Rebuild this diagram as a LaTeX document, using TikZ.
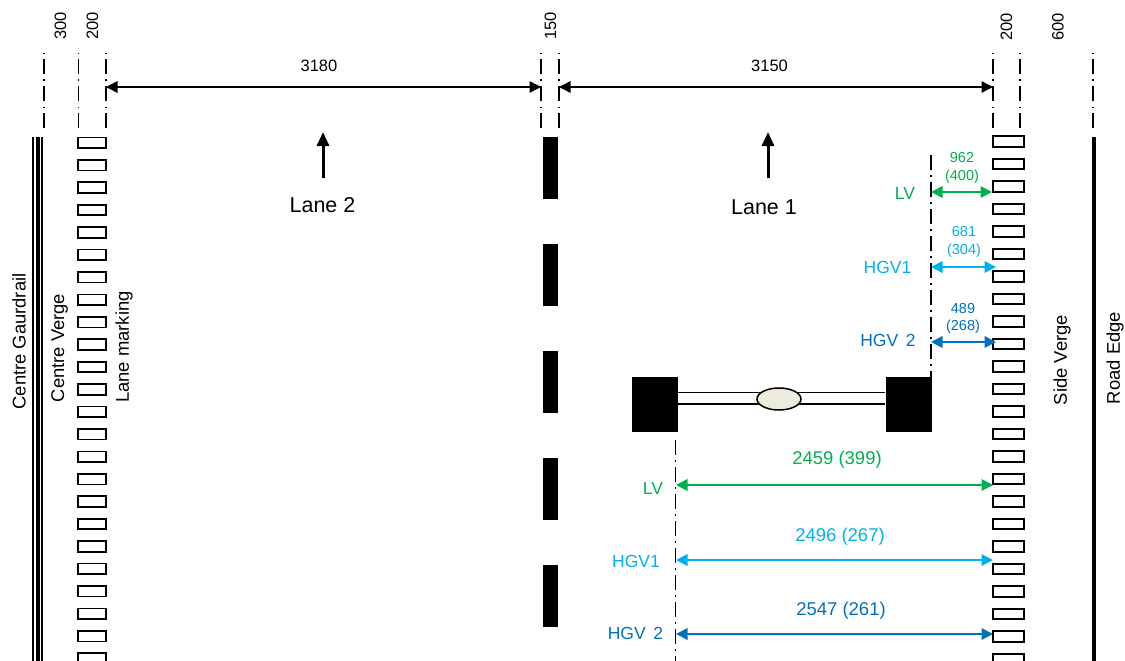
\documentclass[tikz,border=0pt]{standalone}
\usepackage{fontspec}
\setmainfont{Liberation Sans}
\usetikzlibrary{arrows.meta,shapes.geometric}
\begin{document}
\begin{tikzpicture}[x=1pt,y=-1pt,
    guide/.style={line width=1.5pt,dash pattern=on 15pt off 5pt on 1.5pt off 5.5pt},
    markbox/.style={draw,line width=1.7pt,inner sep=0,minimum height=10.5pt,fill=white},
    wheel/.style={fill,inner sep=0,minimum width=46pt,minimum height=55pt},
    dimarrow/.style={line width=1.5pt,{Triangle[length=11.5pt,width=11.5pt]}-{Triangle[length=11.5pt,width=11.5pt]}},
    valarrow/.style={dimarrow,line width=1.9pt},
    uparrow/.style={line width=3pt,-{Triangle[length=14pt,width=12pt]}},
    dimtext/.style={font=\fontsize{16.5}{16.5}\selectfont,inner sep=0},
    sidetext/.style={font=\fontsize{18.4}{18.4}\selectfont,inner sep=0,rotate=90},
    lanetext/.style={font=\fontsize{21.5}{21.5}\selectfont,inner sep=0},
    vehtext/.style={font=\fontsize{17.5}{17.5}\selectfont,inner sep=0},
    valtext/.style={font=\fontsize{18.5}{18.5}\selectfont,inner sep=0},
    smalltext/.style={font=\fontsize{14.5}{14.5}\selectfont,inner sep=0}]
  % colors
  \definecolor{kGreen}{rgb}{0.0,0.69,0.31}
  \definecolor{kSky}{rgb}{0.0,0.69,0.94}
  \definecolor{kBlue}{rgb}{0.0,0.44,0.75}
  \definecolor{kAxle}{rgb}{0.93,0.92,0.87}
  \clip (0,0) rectangle (1125,661);
  % guide lines on top
  \foreach \x/\n in {44/gc, 78.5/gv, 106/gm, 541/gl, 559/gr, 993/gs, 1020/gt, 1093/ge} {
    \coordinate (\n top) at (\x,53);
    \coordinate (\n bot) at (\x,128);
    \draw[guide] (\n bot) -- (\n top);
  }
  % guardrail and road edge
  \draw[line width=1.6pt] (32.8,137) -- (32.8,661);
  \draw[line width=4.3pt] (37.8,137) -- (37.8,661);
  \draw[line width=1.8pt] (42.3,137) -- (42.3,661);
  \draw[line width=4.6pt] (1093.8,137) -- (1093.8,661);
  % edge markings
  \foreach \i in {0,...,23} {
    \node[markbox,minimum width=28pt] (ml\i) at (92.3,{142.7+22.43*\i}) {};
    \node[markbox,minimum width=31pt] (mr\i) at (1008.7,{141.5+22.5*\i}) {};
  }
  % lane line
  \foreach \y in {137,244,351,458,565}
    \fill (543,\y) rectangle (558,\y+61.5);
  % lane widths
  \coordinate (wa) at (106,87);
  \coordinate (wb) at (541,87);
  \coordinate (wc) at (559,87);
  \coordinate (wd) at (993,87);
  \draw[dimarrow] (wa) -- (wb);
  \draw[dimarrow] (wc) -- (wd);
  \node[dimtext] (w1) at (319,65.5) {3180};
  \node[dimtext] (w2) at (769.5,65.5) {3150};
  \node[dimtext,rotate=90] (n300) at (60.5,26) {300};
  \node[dimtext,rotate=90] (n200a) at (92.5,26) {200};
  \node[dimtext,rotate=90] (n150) at (550.5,26) {150};
  \node[dimtext,rotate=90] (n200b) at (1006.5,27) {200};
  \node[dimtext,rotate=90] (n600) at (1058,27) {600};
  % lanes
  \coordinate (la) at (323,178);
  \coordinate (lb) at (323,132);
  \coordinate (lc) at (768,178);
  \coordinate (ld) at (768,132);
  \draw[uparrow] (la) -- (lb);
  \draw[uparrow] (lc) -- (ld);
  \node[lanetext] (lane2) at (322.5,205) {Lane 2};
  \node[lanetext] (lane1) at (764,207) {Lane 1};
  % side labels
  \node[sidetext] (cg) at (19,341.5) {Centre Gaurdrail};
  \node[sidetext] (cv) at (59.5,348) {Centre Verge};
  \node[sidetext] (lm) at (124,347) {Lane marking};
  \node[sidetext] (sv) at (1062,360) {Side Verge};
  \node[sidetext] (re) at (1115,358) {Road Edge};
  % axle
  \node[wheel] (wheelL) at (655,404.2) {};
  \node[wheel] (wheelR) at (908.5,404.2) {};
  \draw[line width=1.5pt] ([yshift=11.5pt]wheelL.east) -- ([yshift=11.5pt]wheelR.west);
  \draw[line width=1.5pt] (wheelL.east) -- (wheelR.west);
  \node[draw,line width=1.5pt,fill=kAxle,ellipse,inner sep=0,minimum width=44pt,minimum height=22pt] (hub) at (779,399) {};
  % offsets
  \coordinate (ot) at (931,155);
  \coordinate (ob) at (931,378);
  \coordinate (pt) at (675.5,440);
  \coordinate (pb) at (675.5,670);
  \draw[guide] (ot) -- (ob);
  \draw[guide] (pt) -- (pb);
  \foreach \n/\xa/\xb/\y/\c in {a/931/992/192/kGreen, b/931/996/267/kSky, c/931/996/342/kBlue, d/676/993/485/kGreen, e/676/993/560/kSky, f/676/993/634/kBlue} {
    \coordinate (\n L) at (\xa,\y);
    \coordinate (\n R) at (\xb,\y);
    \draw[valarrow,color=\c] (\n L) -- (\n R);
  }
  % upper values
  \node[smalltext,color=kGreen] (a1) at (962,158) {962};
  \node[smalltext,color=kGreen] (a2) at (962,176.5) {(400)};
  \node[vehtext,color=kGreen] (a3) at (905,193) {LV};
  \node[smalltext,color=kSky] (b1) at (964,232) {681};
  \node[smalltext,color=kSky] (b2) at (964,250.5) {(304)};
  \node[vehtext,color=kSky] (b3) at (887.5,267) {HGV1};
  \node[smalltext,color=kBlue] (c1) at (963,309) {489};
  \node[smalltext,color=kBlue] (c2) at (963,326.5) {(268)};
  \node[vehtext,color=kBlue] (c3) at (888,340) {HGV\, 2};
  % lower values
  \node[valtext,color=kGreen] (d1) at (837,460) {2459 (399)};
  \node[vehtext,color=kGreen] (d3) at (653,488) {LV};
  \node[valtext,color=kSky] (e1) at (840,537) {2496 (267)};
  \node[vehtext,color=kSky] (e3) at (636,561) {HGV1};
  \node[valtext,color=kBlue] (f1) at (841,611) {2547 (261)};
  \node[vehtext,color=kBlue] (f3) at (635.5,633) {HGV\, 2};
\end{tikzpicture}
\end{document}
